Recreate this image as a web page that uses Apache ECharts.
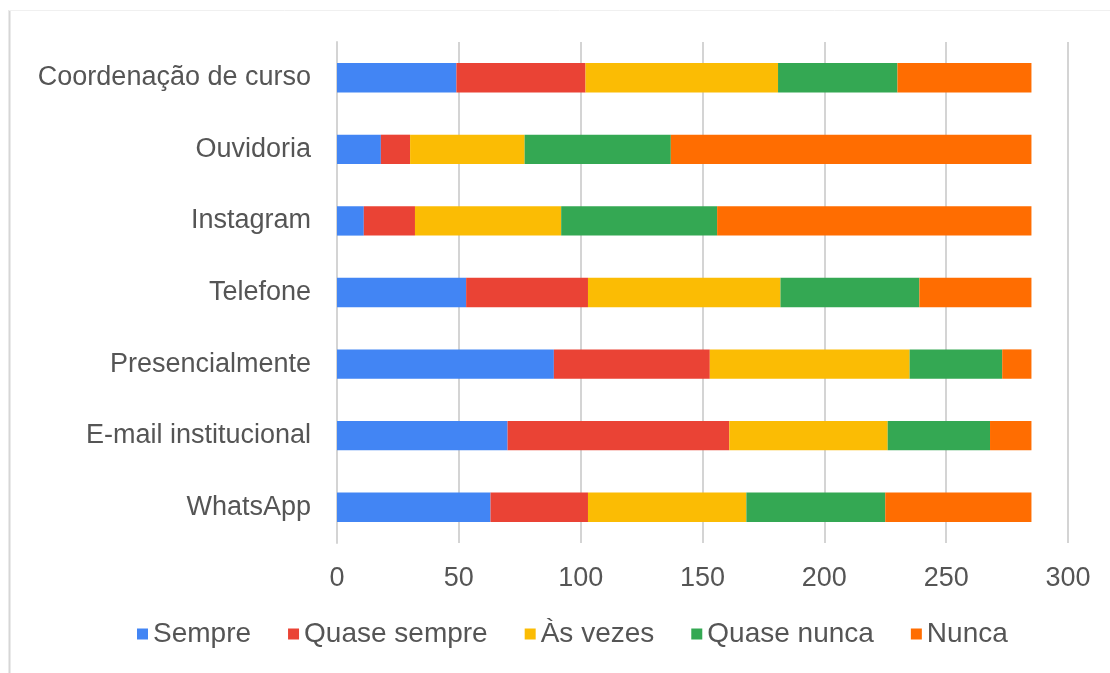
<!DOCTYPE html>
<html lang="pt">
<head>
    <meta charset="UTF-8">
    <title>Canais de comunicação</title>
    <script src="https://cdn.jsdelivr.net/npm/echarts@6/dist/echarts.min.js"></script>
    <style>
        html, body { margin: 0; padding: 0; background: #fff; }
        #chart { width: 1110px; height: 673px; }
    </style>
</head>
<body>
<div id="chart"></div>
<script>
    // categorias (de cima para baixo)
    var canais = ['Coordenação de curso', 'Ouvidoria', 'Instagram', 'Telefone', 'Presencialmente', 'E-mail institucional', 'WhatsApp'];
    var sempre      = [49, 18, 11, 53, 89, 70, 63];
    var quaseSempre = [53, 12, 21, 50, 64, 91, 40];
    var asVezes     = [79, 47, 60, 79, 82, 65, 65];
    var quaseNunca  = [49, 60, 64, 57, 38, 42, 57];
    var nunca       = [55, 148, 129, 46, 12, 17, 60];
    var xTicks = [0, 50, 100, 150, 200, 250, 300];

    var cores = ['#4285F4', '#EA4335', '#FBBC04', '#34A853', '#FF6D01'];
    var fonte = '"Liberation Sans", Arial, sans-serif';

    var myChart = echarts.init(document.getElementById('chart'));

    function serie(nome, dados) {
        return {
            name: nome,
            type: 'bar',
            stack: 'total',
            barWidth: '41%',
            data: dados
        };
    }

    var option = {
        color: cores,
        animation: false,
        textStyle: { fontFamily: fonte },
        graphic: [
            { type: 'line', shape: { x1: 9.5, y1: 10, x2: 9.5, y2: 673 }, style: { stroke: '#d6d6d6', lineWidth: 2 } },
            { type: 'line', shape: { x1: 9, y1: 10.5, x2: 1110, y2: 10.5 }, style: { stroke: '#f0f0f0', lineWidth: 1 } }
        ],
        grid: {
            left: 337,
            right: 42,
            top: 42,
            bottom: 130,
            containLabel: false
        },
        legend: {
            bottom: 20,
            left: 132,
            itemWidth: 11,
            itemHeight: 11,
            itemGap: 37,
            icon: 'rect',
            textStyle: { fontSize: 28, color: '#555', fontFamily: fonte, padding: [0, 0, 0, 0] },
            data: ['Sempre', 'Quase sempre', 'Às vezes', 'Quase nunca', 'Nunca']
        },
        xAxis: {
            type: 'value',
            min: xTicks[0],
            max: xTicks[xTicks.length - 1],
            interval: 50,
            axisLine: { show: false },
            axisTick: { show: false },
            axisLabel: { fontSize: 27, color: '#555', margin: 22 },
            splitLine: { lineStyle: { color: '#d4d4d4', width: 2 } }
        },
        yAxis: {
            type: 'category',
            inverse: true,
            data: canais,
            axisLine: { show: true, lineStyle: { color: '#d4d4d4', width: 2 } },
            axisTick: { show: false },
            axisLabel: { fontSize: 27, color: '#555', margin: 26 }
        },
        series: [
            serie('Sempre', sempre),
            serie('Quase sempre', quaseSempre),
            serie('Às vezes', asVezes),
            serie('Quase nunca', quaseNunca),
            serie('Nunca', nunca)
        ]
    };
    myChart.setOption(option);
</script>
</body>
</html>
